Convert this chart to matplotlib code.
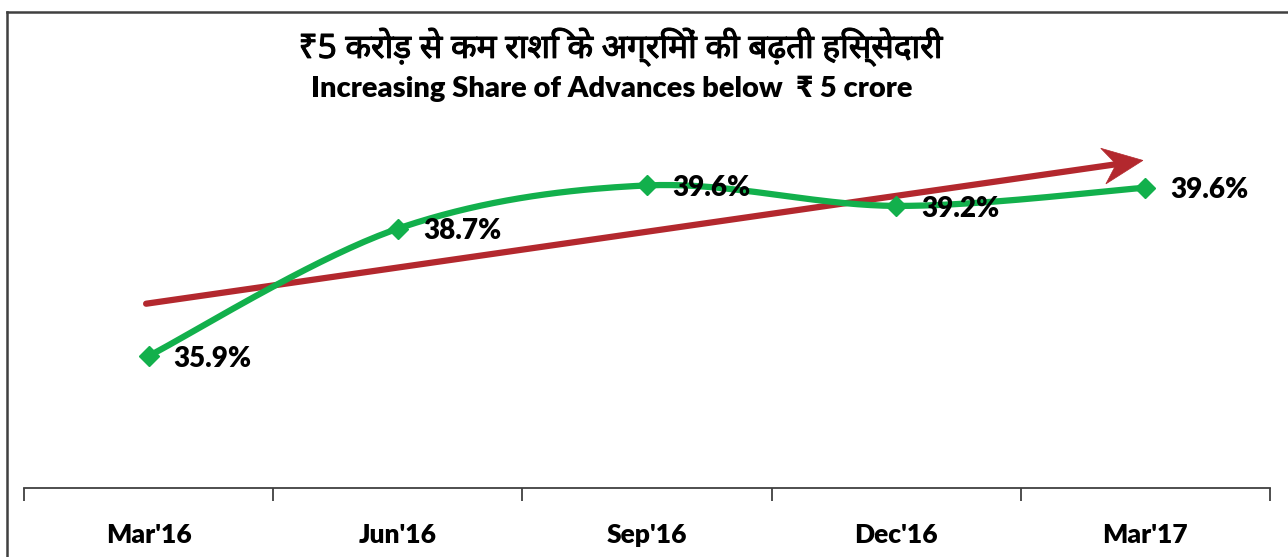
import numpy as np
import matplotlib
matplotlib.use("Agg")
import matplotlib.pyplot as plt
from matplotlib import font_manager
from matplotlib.ft2font import FT2Font
from matplotlib.lines import Line2D
from matplotlib.patches import Polygon
import matplotlib.patheffects as pe

# ---- data ----
categories = ["Mar'16", "Jun'16", "Sep'16", "Dec'16", "Mar'17"]
share = [35.9, 38.7, 39.65, 39.2, 39.6]
labels = ["35.9%", "38.7%", "39.6%", "39.2%", "39.6%"]
title_hi = "₹5 करोड़ से कम राशि के अग्रिमों की बढ़ती हिस्सेदारी"
title_en = "Increasing Share of Advances below  ₹ 5 crore"

# find a font covering Devanagari (prefer Noto if present)
deva = None
cands = []
for f in font_manager.fontManager.ttflist:
    try:
        ft = FT2Font(f.fname)
        if 0x0915 in ft.get_charmap():
            cands.append(f)
    except Exception:
        pass
for f in cands:
    if "Noto" in f.name:
        deva = f.name
        break
if deva is None and cands:
    deva = cands[0].name

main_font = "Lato"
hi_fam = ([deva] if deva else []) + ["DejaVu Sans"]
BOLD = "heavy"

GREEN = "#12B04C"
RED = "#B3282E"

fig = plt.figure(figsize=(12.88, 5.57), dpi=100)
W, H = 1288, 557
ax = fig.add_axes([24 / W, (H - 488) / H, 1246 / W, (488 - 124) / H])
ax.set_xlim(-0.5, 4.5)
ax.set_ylim(33, 41)

x = np.arange(len(share))
y = np.array(share)

# Catmull-Rom smoothing (Excel-style smoothed line)
px = np.concatenate([[x[0]], x, [x[-1]]])
py = np.concatenate([[y[0]], y, [y[-1]]])
xs, ys = [], []
t = np.linspace(0, 1, 40)
for i in range(1, len(px) - 2):
    p0, p1, p2, p3 = [np.array([px[j], py[j]]) for j in (i - 1, i, i + 1, i + 2)]
    c1 = p1 + (p2 - p0) / 6
    c2 = p2 - (p3 - p1) / 6
    b = ((1 - t) ** 3)[:, None] * p1 + (3 * (1 - t) ** 2 * t)[:, None] * c1 \
        + (3 * (1 - t) * t ** 2)[:, None] * c2 + (t ** 3)[:, None] * p2
    xs.extend(b[:, 0]); ys.extend(b[:, 1])

ax.plot(xs, ys, color=GREEN, lw=4.5, solid_capstyle="round", zorder=3)
ax.plot(x, y, linestyle="none", marker="D", ms=10, color=GREEN, zorder=4)

for xi, yi, lab in zip(x, y, labels):
    ax.annotate(lab, (xi, yi), xytext=(18, -2), textcoords="offset points",
                ha="left", va="center", fontsize=20, fontweight=BOLD,
                family=[main_font, "DejaVu Sans"], color="black", zorder=5)

# trend arrow (decoration) with stealth-like head
start = (-0.01, 37.05)
tip = (3.99, 40.2)
sd = ax.transData.transform(start)
td = ax.transData.transform(tip)
u = (td - sd) / np.hypot(*(td - sd))
v = np.array([-u[1], u[0]])
head = [td, td - 40 * u + 18 * v, td - 27 * u, td - 40 * u - 18 * v]
head_data = ax.transData.inverted().transform(np.array(head))
notch = ax.transData.inverted().transform(td - 29 * u)
ax.plot([start[0], notch[0]], [start[1], notch[1]], color=RED, lw=4.5,
        solid_capstyle="round", zorder=2)
ax.add_patch(Polygon(head_data, closed=True, facecolor=RED, edgecolor=RED,
                     lw=0.5, zorder=2))

# axes styling
for s in ["top", "right", "left"]:
    ax.spines[s].set_visible(False)
ax.spines["bottom"].set_color("#404040")
ax.spines["bottom"].set_linewidth(1.3)
ax.set_yticks([])
ax.set_xticks(x)
ax.set_xticklabels(categories, fontsize=19, fontweight=BOLD,
                   family=[main_font, "DejaVu Sans"])
ax.tick_params(axis="x", which="major", length=0, pad=25)
ax.set_xticks(np.arange(-0.5, 4.6, 1), minor=True)
ax.tick_params(axis="x", which="minor", length=9, width=1.3, color="#404040", direction="out")

# titles
fig.text(620 / W, (H - 47) / H, title_hi, ha="center", va="center", fontsize=24,
         fontweight="bold", family=hi_fam,
         path_effects=[pe.withStroke(linewidth=0.8, foreground="black")])
fig.text(612 / W, (H - 89) / H, title_en, ha="center", va="center", fontsize=21,
         fontweight=BOLD, family=[main_font, "DejaVu Sans"])

# frame lines (chart border)
fig.add_artist(Line2D([7 / W, 1], [(H - 12) / H, (H - 12) / H], transform=fig.transFigure,
                      color="#404040", lw=1.8))
fig.add_artist(Line2D([7 / W, 7 / W], [0, (H - 12) / H], transform=fig.transFigure,
                      color="#404040", lw=1.8))

fig.savefig("out.png", dpi=100)
